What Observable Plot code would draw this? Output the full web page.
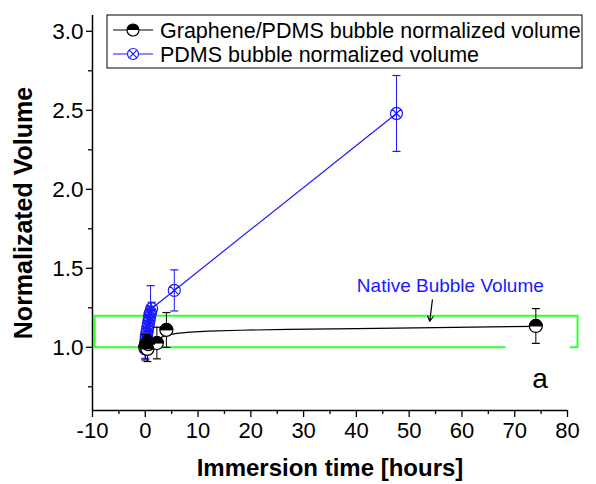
<!DOCTYPE html>
<html><head><meta charset="utf-8">
<script src="https://cdn.jsdelivr.net/npm/d3@7"></script>
<script src="https://cdn.jsdelivr.net/npm/@observablehq/plot@0.6"></script>
<style>
body{margin:0;background:#fff;}
#wrap{position:relative;width:596px;height:484px;font-family:"Liberation Sans",Arial,sans-serif;}
#legend{position:absolute;left:0;top:0;pointer-events:none;}
</style></head><body><div id="wrap"></div>
<script>
// Graphene/PDMS bubble normalized volume
const grX   = [0, 0.1, 0.2, 0.4, 0.6, 2.2, 4.0, 74];
const grY   = [1.0, 1.01, 1.02, 0.99, 1.02, 1.027, 1.11, 1.135];
const grErr = [0.08, 0.05, 0.06, 0.08, 0.05, 0.10, 0.11, 0.11];
// PDMS bubble normalized volume
const pdX   = [0, 0.05, 0.1, 0.15, 0.2, 0.3, 0.4, 0.5, 0.6, 0.7, 0.8, 0.9, 1.0, 1.2, 5.5, 47.6];
const pdY   = [0.99, 1.01, 1.03, 1.05, 1.07, 1.09, 1.11, 1.13, 1.15, 1.17, 1.19, 1.21, 1.22, 1.245, 1.36, 2.48];
const pdErr = [0.06, 0.04, 0.05, 0.04, 0.05, 0.04, 0.05, 0.06, 0.05, 0.06, 0.05, 0.05, 0.17, 0.04, 0.13, 0.24];
// fitted curve for Graphene/PDMS
const fitX = [2, 3, 4, 6, 8.5, 12, 18, 27, 40, 55, 74];
const fitY = [1.045, 1.063, 1.075, 1.088, 1.096, 1.102, 1.108, 1.113, 1.118, 1.125, 1.133];
// native bubble volume band (open outline)
const bandX = [68.1, -9.6, -9.6, 81.9, 81.9, 80.6];
const bandY = [1.0, 1.0, 1.2, 1.2, 1.0, 1.0];
// annotations
const noteText = ["Native Bubble Volume"], noteX = [57.8], noteY = [1.39];
const arrowX1 = [54.4], arrowY1 = [1.30], arrowX2 = [53.9], arrowY2 = [1.165];
const panelText = ["a"], panelX = [74.8], panelY = [0.80];
// axes
const xTicks = [-10, 0, 10, 20, 30, 40, 50, 60, 70, 80];
const xMinor = [-5, 5, 15, 25, 35, 45, 55, 65, 75];
const yTicks = [1.0, 1.5, 2.0, 2.5, 3.0];
const yMinor = [0.75, 1.25, 1.75, 2.25, 2.75];
const xLabel = "Immersion time [hours]";
const yLabel = "Normalizated Volume";
const legendLabels = ["Graphene/PDMS bubble normalized volume", "PDMS bubble normalized volume"];

const BLUE = "#1a1aff", GREEN = "#33ff33";
const gr = grX.map((x, i) => ({x, y: grY[i], e: grErr[i]}));
const pd = pdX.map((x, i) => ({x, y: pdY[i], e: pdErr[i]}));
const fit = fitX.map((x, i) => ({x, y: fitY[i]}));
const band = bandX.map((x, i) => ({x, y: bandY[i]}));
const arrows = arrowX1.map((x1, i) => ({x1, y1: arrowY1[i], x2: arrowX2[i], y2: arrowY2[i]}));

const rad = s => Math.sqrt(s / Math.PI);
const capSym = {draw(c, s) { const r = rad(s); c.moveTo(-r, 0); c.lineTo(r, 0); }};
const halfTop = {draw(c, s) { const r = rad(s); c.moveTo(r, 0); c.arc(0, 0, r, 0, Math.PI, true); c.closePath(); }};
const circX = {draw(c, s) { const r = rad(s); c.moveTo(r, 0); c.arc(0, 0, r, 0, 2 * Math.PI); const k = r * 0.7071;
  c.moveTo(-k, -k); c.lineTo(k, k); c.moveTo(-k, k); c.lineTo(k, -k); }};

function errMarks(data, color) {
  return [
    Plot.ruleX(data, {x: "x", y1: d => d.y - d.e, y2: d => d.y + d.e, stroke: color, strokeWidth: 1}),
    Plot.dot(data, {x: "x", y: d => d.y - d.e, symbol: capSym, r: 4, stroke: color, strokeWidth: 1.2}),
    Plot.dot(data, {x: "x", y: d => d.y + d.e, symbol: capSym, r: 4, stroke: color, strokeWidth: 1.2})
  ];
}

const chart = Plot.plot({
  width: 596, height: 484,
  marginLeft: 92, marginRight: 29, marginTop: 15, marginBottom: 74,
  style: {fontFamily: "'Liberation Sans', Arial, sans-serif", color: "black", background: "white"},
  x: {domain: [-10, 80], label: null},
  y: {domain: [0.6, 3.1], label: null},
  marks: [
    Plot.line(band, {x: "x", y: "y", stroke: GREEN, strokeWidth: 2}),
    // PDMS
    ...errMarks(pd, BLUE),
    Plot.line(pd, {x: "x", y: "y", stroke: BLUE, strokeWidth: 1.2}),
    Plot.dot(pd, {x: "x", y: "y", symbol: circX, r: 6, stroke: BLUE, fill: "none", strokeWidth: 1.2}),
    // Graphene/PDMS
    ...errMarks(gr, "black"),
    Plot.line(fit, {x: "x", y: "y", stroke: "black", strokeWidth: 1.2}),
    Plot.dot(gr, {x: "x", y: "y", r: 6.5, fill: "white", stroke: "black", strokeWidth: 1.2}),
    Plot.dot(gr, {x: "x", y: "y", symbol: halfTop, r: 6.5, fill: "black", stroke: "black", strokeWidth: 1}),
    // annotations
    Plot.text(noteText, {x: () => noteX[0], y: () => noteY[0], text: d => d, fill: BLUE, fontSize: 19}),
    Plot.arrow(arrows, {x1: "x1", y1: "y1", x2: "x2", y2: "y2", stroke: "black", strokeWidth: 1.2, headLength: 7}),
    Plot.text(panelText, {x: () => panelX[0], y: () => panelY[0], text: d => d, fill: "black", fontSize: 28}),
    // axes
    Plot.ruleX([-10], {stroke: "black", strokeWidth: 1.5}),
    Plot.ruleY([0.6], {stroke: "black", strokeWidth: 1.5}),
    Plot.axisX(xTicks, {tickSize: 7, tickPadding: 5, fontSize: 22, tickFormat: d => String(d), strokeWidth: 1.3, label: null}),
    Plot.axisX(xMinor, {tickSize: 4, tickFormat: () => "", strokeWidth: 1.3, label: null}),
    Plot.axisY(yTicks, {tickSize: 6, tickPadding: 3, fontSize: 22.5, tickFormat: d3.format(".1f"), strokeWidth: 1.3, label: null}),
    Plot.axisY(yMinor, {tickSize: 4, tickFormat: () => "", strokeWidth: 1.3, label: null}),
    Plot.text([xLabel], {frameAnchor: "bottom", dy: 58, text: d => d, textAnchor: "middle", lineAnchor: "middle", fontWeight: "bold", fontSize: 24, letterSpacing: "-1.2px", fill: "black"}),
    Plot.text([yLabel], {frameAnchor: "left", dx: -69, rotate: -90, text: d => d, textAnchor: "middle", lineAnchor: "middle", fontWeight: "bold", fontSize: 25, letterSpacing: "-0.4px", fill: "black"})
  ]
});
const wrap = document.getElementById("wrap");
wrap.appendChild(chart);

// legend overlay
const ns = "http://www.w3.org/2000/svg";
const lg = document.createElementNS(ns, "svg");
lg.setAttribute("id", "legend"); lg.setAttribute("width", 596); lg.setAttribute("height", 80);
const bx = 107, by = 15, bw = 475, bh = 53;
let html = `<rect x="${bx}" y="${by}" width="${bw}" height="${bh}" fill="white" stroke="black" stroke-width="1"/>`;
const rows = [{y: 30, color: "black", kind: "gr"}, {y: 54, color: BLUE, kind: "pd"}];
rows.forEach((r, i) => {
  html += `<line x1="113" x2="153" y1="${r.y}" y2="${r.y}" stroke="${r.color}" stroke-width="1.2"/>`;
  if (r.kind === "gr") {
    html += `<circle cx="133" cy="${r.y}" r="6" fill="white" stroke="black" stroke-width="1.2"/>`;
    html += `<path d="M139,${r.y}A6,6 0 0 0 127,${r.y}Z" fill="black"/>`;
  } else {
    html += `<circle cx="133" cy="${r.y}" r="5.5" fill="white" stroke="${BLUE}" stroke-width="1.2"/>`;
    html += `<path d="M129.1,${r.y-3.9}L136.9,${r.y+3.9}M129.1,${r.y+3.9}L136.9,${r.y-3.9}" stroke="${BLUE}" stroke-width="1.2"/>`;
  }
  html += `<text x="160" y="${r.y}" dy="0.35em" font-size="21.5" font-family="'Liberation Sans', Arial, sans-serif" fill="black">${legendLabels[i]}</text>`;
});
lg.innerHTML = html;
wrap.appendChild(lg);
</script>
</body></html>
